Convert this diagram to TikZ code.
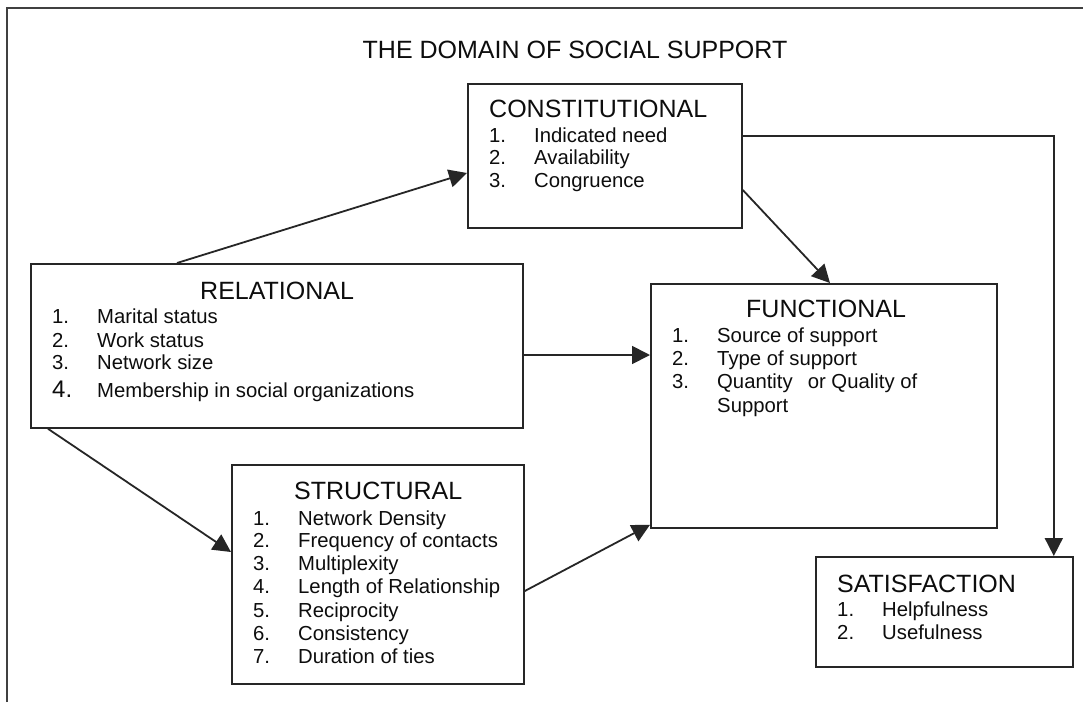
\documentclass[tikz,border=0pt]{standalone}
\usepackage{fontspec}
\setmainfont{Liberation Sans}
\usetikzlibrary{arrows.meta}
% one numbered line: number in a fixed column, then the text
\newcommand\entry[2]{\makebox[45pt][l]{#1}#2}
\begin{document}
\begin{tikzpicture}[x=1pt,y=-1pt,
  ink/.style={draw=black!85, line width=1.8pt},
  panel/.style={ink, fill=white, inner sep=0pt, anchor=north west},
  heading/.style={inner sep=0pt, anchor=base west, text=black!95, font=\fontsize{25}{25}\selectfont},
  entrytext/.style={inner sep=0pt, anchor=base west, text=black!95, font=\fontsize{20.3}{22}\selectfont},
  link/.style={ink, -{Triangle[length=18pt,width=18pt]}},
]
\useasboundingbox (0,0) rectangle (1083,702);
\fill[white] (0,0) rectangle (1083,702);
% outer frame
\draw[draw=black!75, line width=1.4pt] (7,702) -- (7,8) -- (1083,8);

\node[inner sep=0pt, anchor=base, text=black!95, font=\fontsize{25}{25}\selectfont] (title) at (575,58) {THE DOMAIN OF SOCIAL SUPPORT};

% panels
\node[panel, minimum width=274pt, minimum height=144pt] (con) at (467,83) {};
\node[panel, minimum width=492pt, minimum height=164pt] (rel) at (30,263) {};
\node[panel, minimum width=346pt, minimum height=244pt] (fun) at (650,283) {};
\node[panel, minimum width=292pt, minimum height=219pt] (str) at (231,464) {};
\node[panel, minimum width=257pt, minimum height=110pt] (sat) at (815,556) {};

% CONSTITUTIONAL
\node[heading] (con-h) at (489,117) {CONSTITUTIONAL};
\node[entrytext] (con-1) at (489,142) {\entry{1.}{Indicated need}};
\node[entrytext] (con-2) at (489,164) {\entry{2.}{Availability}};
\node[entrytext] (con-3) at (489,187) {\entry{3.}{Congruence}};

% RELATIONAL
\node[heading] (rel-h) at (200,299) {RELATIONAL};
\node[entrytext] (rel-1) at (52,323) {\entry{1.}{Marital status}};
\node[entrytext] (rel-2) at (52,347) {\entry{2.}{Work status}};
\node[entrytext] (rel-3) at (52,369) {\entry{3.}{Network size}};
\node[entrytext] (rel-4) at (52,397) {\entry{{\fontsize{24}{24}\selectfont 4.}}{Membership in social organizations}};

% FUNCTIONAL
\node[heading] (fun-h) at (746,317) {FUNCTIONAL};
\node[entrytext] (fun-1) at (672,342) {\entry{1.}{Source of support}};
\node[entrytext] (fun-2) at (672,365) {\entry{2.}{Type of support}};
\node[entrytext] (fun-3) at (672,388) {\entry{3.}{Quantity\hspace{15pt}or Quality of}};
\node[entrytext] (fun-3b) at (717,412) {Support};

% STRUCTURAL
\node[heading] (str-h) at (294,499) {STRUCTURAL};
\node[entrytext] (str-1) at (253,525) {\entry{1.}{Network Density}};
\node[entrytext] (str-2) at (253,547) {\entry{2.}{Frequency of contacts}};
\node[entrytext] (str-3) at (253,570) {\entry{3.}{Multiplexity}};
\node[entrytext] (str-4) at (253,593) {\entry{4.}{Length of Relationship}};
\node[entrytext] (str-5) at (253,617) {\entry{5.}{Reciprocity}};
\node[entrytext] (str-6) at (253,640) {\entry{6.}{Consistency}};
\node[entrytext] (str-7) at (253,663) {\entry{7.}{Duration of ties}};

% SATISFACTION
\node[heading] (sat-h) at (837,592) {SATISFACTION};
\node[entrytext] (sat-1) at (837,616) {\entry{1.}{Helpfulness}};
\node[entrytext] (sat-2) at (837,639) {\entry{2.}{Usefulness}};

% connectors
\draw[link] ([xshift=147pt]rel.north west) -- ([yshift=-90pt]con.north west);
\draw[link] ([yshift=-53pt]con.north east) -| ([xshift=-20pt]sat.north east);
\draw[link] ([yshift=-107pt]con.north east) -- ([xshift=180pt]fun.north west);
\draw[link] ([yshift=-92pt]rel.north east) -- ([yshift=-92pt]rel.north east -| fun.west);
\draw[link] ([xshift=18pt]rel.south west) -- ([yshift=-88pt]str.north west);
\draw[link] ([yshift=-127pt]str.north east) -- ([yshift=4pt]fun.south west);
\end{tikzpicture}
\end{document}
